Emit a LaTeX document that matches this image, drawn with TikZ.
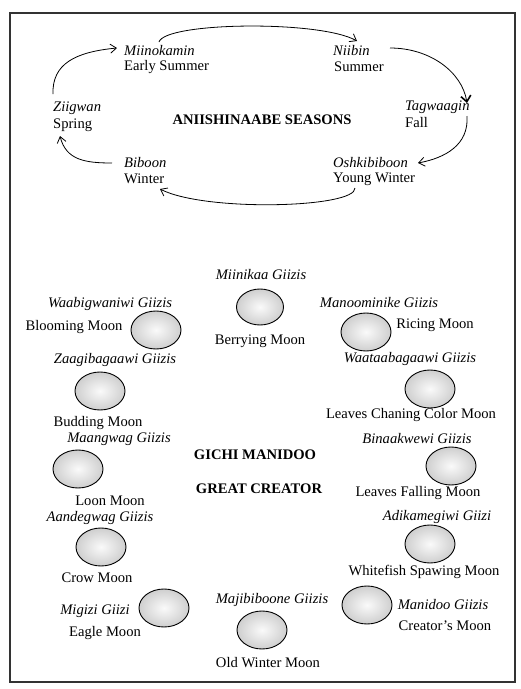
\documentclass[tikz,border=0pt]{standalone}
\usepackage{fontspec}
\setmainfont{Liberation Serif}
\usetikzlibrary{shapes.geometric,arrows.meta}
\begin{document}
\begin{tikzpicture}[x=1pt,y=-1pt,
  lab/.style={font=\fontsize{14.6}{16}\selectfont, inner sep=0pt},
  nm/.style={font=\fontsize{14.6}{16}\selectfont\itshape, inner sep=0pt},
  ttl/.style={font=\fontsize{14.6}{16}\selectfont\bfseries, inner sep=0pt},
  moon/.style={ellipse, draw=black, line width=0.9pt, minimum width=50pt, minimum height=38pt, inner sep=0pt, inner color=black!2, outer color=black!19},
  cyc/.style={line width=0.8pt, -{Straight Barb[length=6pt,width=9pt]}},
  cycb/.style={line width=0.8pt, -{Straight Barb[length=6pt,width=10pt,line width=1.6pt]}}
]
\useasboundingbox (0,0) rectangle (521,689);
\draw[black!80, line width=1.3pt] (10,13) rectangle (515,682);

% seasons
\node[nm, anchor=west] (mi) at (124,51) {Miinokamin};
\node[lab, anchor=west] (es) at (124,67) {Early Summer};
\node[nm, anchor=west] (ni) at (333,51) {Niibin};
\node[lab, anchor=west] (su) at (334,67) {Summer};
\node[nm, anchor=west] (ta) at (405,107) {Tagwaagin};
\node[lab, anchor=west] (fa) at (405,123) {Fall};
\node[nm, anchor=west] (zi) at (53,108) {Ziigwan};
\node[lab, anchor=west] (sp) at (53,125) {Spring};
\node[nm, anchor=west] (bi) at (124,163) {Biboon};
\node[lab, anchor=west] (wi) at (124,179) {Winter};
\node[nm, anchor=west] (os) at (333,163) {Oshkibiboon};
\node[lab, anchor=west] (yw) at (333,179) {Young Winter};
\node[ttl] (seasons) at (262,120) {ANIISHINAABE SEASONS};

\coordinate (a1s) at (53,94);   \coordinate (a1e) at (117,48);
\coordinate (a2s) at (159,42);  \coordinate (a2e) at (357,41);
\coordinate (a3s) at (390,48);  \coordinate (a3e) at (467,103);
\coordinate (a4s) at (467,116); \coordinate (a4e) at (418,163);
\coordinate (a5s) at (355,188); \coordinate (a5e) at (160,189);
\coordinate (a6s) at (112,163); \coordinate (a6e) at (60,136);

\draw[cyc] (a1s) .. controls (52,64) and (75,52) .. (a1e);
\draw[cyc] (a2s) .. controls (165,22) and (320,20) .. (a2e);
\draw[cycb] (a3s) .. controls (430,48) and (462,72) .. (a3e);
\draw[cyc] (a4s) .. controls (469,145) and (445,158) .. (a4e);
\draw[cyc] (a5s) .. controls (356,208) and (205,212) .. (a5e);
\draw[cyc] (a6s) .. controls (85,163) and (66,160) .. (a6e);

% moons
\node[nm] (n1) at (261,275) {Miinikaa Giizis};
\node[moon, minimum width=47pt, minimum height=36pt] (m1) at (260,307) {};
\node[lab] (e1) at (260,341) {Berrying Moon};

\node[nm] (n2) at (110,304) {Waabigwaniwi Giizis};
\node[moon] (m2) at (156,330) {};
\node[lab] (e2) at (74,327) {Blooming Moon};

\node[nm] (n3) at (379,303) {Manoominike Giizis};
\node[moon] (m3) at (366,332) {};
\node[lab] (e3) at (435,325) {Ricing Moon};

\node[nm] (n4) at (115,360) {Zaagibagaawi Giizis};
\node[moon] (m4) at (100,391) {};
\node[lab] (e4) at (98,423) {Budding Moon};

\node[nm] (n5) at (410,359) {Waataabagaawi Giizis};
\node[moon] (m5) at (430,389) {};
\node[lab] (e5) at (411,415) {Leaves Chaning Color Moon};

\node[nm] (n6) at (119,439) {Maangwag Giizis};
\node[moon] (m6) at (78,469) {};
\node[lab] (e6) at (110,501) {Loon Moon};

\node[nm] (n7) at (417,439) {Binaakwewi Giizis};
\node[moon] (m7) at (451,466) {};
\node[lab] (e7) at (418,493) {Leaves Falling Moon};

\node[ttl] (gm) at (255,455) {GICHI MANIDOO};
\node[ttl] (gc) at (259,489) {GREAT CREATOR};

\node[nm] (n9) at (100,518) {Aandegwag Giizis};
\node[moon] (m9) at (101,547) {};
\node[lab] (e9) at (97,578) {Crow Moon};

\node[nm] (n10) at (437,517) {Adikamegiwi Giizi};
\node[moon] (m10) at (430,544) {};
\node[lab] (e10) at (424,572) {Whitefish Spawing Moon};

\node[nm] (n11) at (95,611) {Migizi Giizi};
\node[moon] (m11) at (164,608) {};
\node[lab] (e11) at (105,633) {Eagle Moon};

\node[nm] (n12) at (272,600) {Majibiboone Giizis};
\node[moon] (m12) at (262,630) {};
\node[lab] (e12) at (268,663) {Old Winter Moon};

\node[nm] (n13) at (443,605) {Manidoo Giizis};
\node[moon] (m13) at (367,605) {};
\node[lab] (e13) at (445,626) {Creator's Moon};
\end{tikzpicture}
\end{document}
